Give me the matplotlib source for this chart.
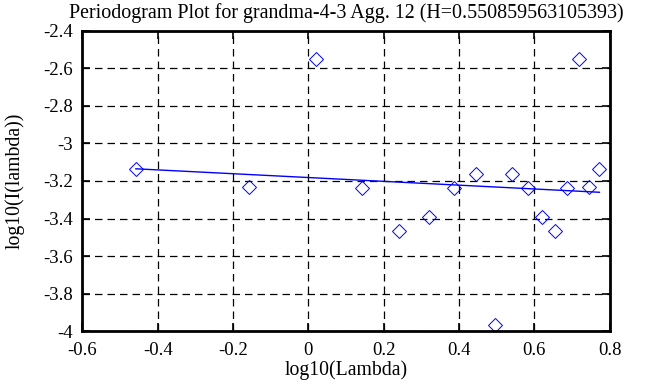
import matplotlib.pyplot as plt
import numpy as np

# periodogram points
log_lambda = [-0.458, -0.157, 0.0205, 0.1435, 0.2417, 0.3206, 0.3878, 0.4454, 0.4967,
              0.5418, 0.5843, 0.6215, 0.656, 0.688, 0.7182, 0.7464, 0.7729]
log_I = [-3.136, -3.230, -2.549, -3.239, -3.467, -3.390, -3.237, -3.164, -3.968,
         -3.164, -3.239, -3.390, -3.467, -3.239, -2.549, -3.230, -3.136]

H = 0.550859563105393
intercept = -3.1815
slope = 1 - 2 * H

xticks = [-0.6, -0.4, -0.2, 0, 0.2, 0.4, 0.6, 0.8]
yticks = [-4, -3.8, -3.6, -3.4, -3.2, -3, -2.8, -2.6, -2.4]

plt.rcParams['font.family'] = ['Liberation Serif', 'DejaVu Serif']

fig = plt.figure(figsize=(6.63, 3.87), dpi=100)
ax = fig.add_axes([0.1243, 0.1447, 0.7952, 0.7752])

ax.grid(True, color="black", linestyle=(0, (6, 4)), linewidth=0.9)
ax.set_axisbelow(True)

xs = np.array([log_lambda[0], log_lambda[-1]])
ax.plot(xs, intercept + slope * xs, color="blue", linewidth=1.0)
ax.plot(log_lambda, log_I, linestyle="none", marker="D", markersize=7,
        markerfacecolor="none", markeredgecolor="blue", markeredgewidth=0.7)

ax.set_xlim(-0.6, 0.8)
ax.set_ylim(-4, -2.4)
ax.set_xticks(xticks)
ax.set_yticks(yticks)
ax.set_xticklabels([f"{t:g}" for t in xticks])
ax.set_yticklabels([f"{t:g}" for t in yticks])
ax.tick_params(direction="in", length=6, width=1.2, top=True, right=True,
               labelsize=13.5)
ax.tick_params(axis="x", pad=8)
ax.tick_params(axis="y", pad=7)
for s in ax.spines.values():
    s.set_linewidth(2)

ax.set_title("Periodogram Plot for grandma-4-3 Agg. 12 (H=0.550859563105393)",
             fontsize=14.4, pad=9)
ax.set_xlabel("log10(Lambda)", fontsize=14.2, labelpad=1)
ax.set_ylabel("log10(I(lambda))", fontsize=14.2, labelpad=13)

fig.savefig("out.png", dpi=100)
